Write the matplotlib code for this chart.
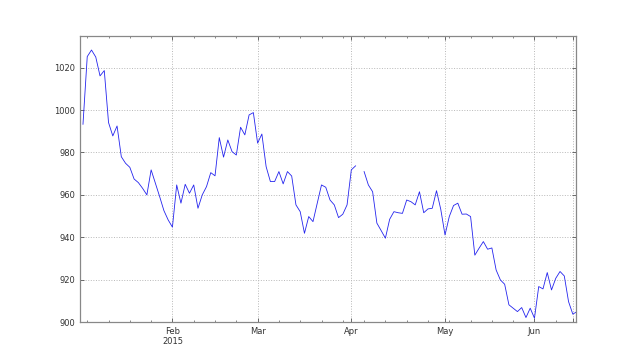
import numpy as np
import pandas as pd
import matplotlib
matplotlib.use("Agg")
import matplotlib.pyplot as plt
from matplotlib.ticker import FixedLocator, FixedFormatter

start_date = "2015-01-02"
n_days = 117
missing_dates = ["2015-04-03"]
values = [
    993.3, 1025.2, 1028.3, 1025.0, 1016.1, 1018.6, 994.1, 987.8, 992.5, 978.0,
    974.9, 973.0, 967.5, 965.8, 963.1, 960.0, 971.8, 965.5, 959.2, 952.6,
    948.2, 944.8, 964.7, 956.1, 965.0, 960.8, 964.7, 953.7, 960.0, 963.9,
    970.5, 969.0, 987.0, 977.8, 985.9, 980.4, 978.8, 991.9, 988.3, 997.7,
    998.8, 984.4, 988.7, 973.3, 966.3, 966.3, 971.0, 965.2, 971.0, 968.9,
    955.3, 952.1, 941.9, 949.8, 947.4, 956.1, 964.7, 963.6, 957.6, 955.3,
    949.3, 950.9, 955.3, 971.8, 973.7, np.nan, 971.0, 964.7, 961.5, 946.7,
    943.2, 939.6, 948.5, 952.1, 951.6, 951.3, 957.6, 956.8, 955.3, 961.5,
    951.6, 953.4, 953.7, 962.0, 953.2, 941.1, 949.8, 955.0, 956.1, 950.9,
    951.0, 949.8, 931.6, 934.9, 938.0, 934.4, 935.0, 924.6, 919.9, 917.9,
    908.2, 906.6, 905.0, 906.9, 902.2, 906.6, 901.9, 916.8, 915.7, 923.4,
    915.2, 920.7, 923.9, 921.8, 909.7, 903.8, 905.0,
]
major_tick_dates = ["2015-02-02", "2015-03-02", "2015-04-01", "2015-05-01",
                    "2015-06-01", "2015-06-12"]
major_tick_labels = ["Feb\n2015", "Mar", "Apr", "May", "Jun", ""]
y_ticks = [900, 920, 940, 960, 980, 1000, 1020]

idx = pd.bdate_range(start_date, periods=n_days, freq="B")
s = pd.Series(values, index=idx)
pos = np.arange(n_days)

major_pos = [idx.get_loc(pd.Timestamp(d)) for d in major_tick_dates]
minor_pos = [p for p, d in zip(pos, idx) if d.weekday() == 0 and p not in major_pos]

plt.rcParams["font.family"] = "DejaVu Sans"
plt.rcParams["font.size"] = 6

fig = plt.figure(figsize=(6.4, 3.58), dpi=100)
ax = fig.add_subplot(111)
fig.subplots_adjust(left=0.125, right=0.9, bottom=0.1, top=0.9)

ax.plot(pos, s.values, color="#2424ee", linewidth=0.6)

ax.set_xlim(pos[0] - 0.7, pos[-1] - 0.25)
ax.set_ylim(900, 1035)
ax.set_yticks(y_ticks)
ax.xaxis.set_major_locator(FixedLocator(major_pos))
ax.xaxis.set_major_formatter(FixedFormatter(major_tick_labels))
ax.xaxis.set_minor_locator(FixedLocator(minor_pos))

ax.grid(True, which="major", color="#b8b8b8", linestyle=":", linewidth=0.7)
ax.tick_params(which="both", direction="in", top=True, right=True,
               colors="#555555", labelcolor="#333333", labelsize=6)
ax.tick_params(which="major", length=3, width=0.6)
ax.tick_params(which="minor", length=1.5, width=0.5)
for sp in ax.spines.values():
    sp.set_color("#888888")
    sp.set_linewidth(0.9)

fig.savefig("out.png", dpi=100)
